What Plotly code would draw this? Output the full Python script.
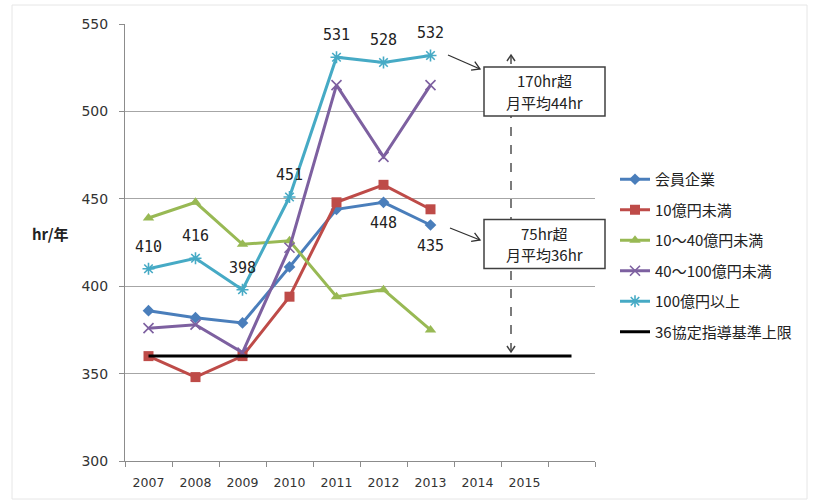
import math
import plotly.graph_objects as go

# Working-hour averages by company size (hours per year)
years = ["2007", "2008", "2009", "2010", "2011", "2012", "2013"]
all_years = ["2007", "2008", "2009", "2010", "2011", "2012", "2013", "2014", "2015", "2016"]
year_labels = ["2007", "2008", "2009", "2010", "2011", "2012", "2013", "2014", "2015", ""]

member = [386, 382, 379, 411, 444, 448, 435]
under_10 = [360, 348, 360, 394, 448, 458, 444]
from_10_to_40 = [439, 448, 424, 426, 394, 398, 375]
from_40_to_100 = [376, 378, 362, 422, 515, 474, 515]
over_100 = [410, 416, 398, 451, 531, 528, 532]
limit_36 = [360] * len(all_years)

names = ["会員企業", "10億円未満", "10～40億円未満", "40～100億円未満", "100億円以上", "36協定指導基準上限"]
colors = ["#4A7EBB", "#BE4B48", "#98B954", "#7D60A0", "#46AAC5", "#000000"]

note_lines = [("170hr超", "月平均44hr"), ("75hr超", "月平均36hr")]

FONT = "Noto Sans CJK JP"
NUM_FONT = "DejaVu Sans"
LABEL_FONT = "DejaVu Sans Mono"

# plot-area geometry in pixels (used for decoration placement)
L, T, W, H = 125, 24, 470, 437


def px(x):
    return (x - L) / W


def py(y):
    return (T + H - y) / H


fig = go.Figure()

series = [member, under_10, from_10_to_40, from_40_to_100, over_100]
markers = [
    dict(symbol="diamond", size=9),
    dict(symbol="square", size=10),
    dict(symbol="triangle-up", size=10),
    dict(symbol="x-thin-open", size=10, line=dict(width=1.6)),
    dict(symbol="asterisk-open", size=10, line=dict(width=1.6)),
]
for name, vals, col, mk in zip(names, series, colors, markers):
    mk = dict(mk)
    mk["color"] = col
    if "line" in mk:
        mk["line"]["color"] = col
    fig.add_trace(go.Scatter(
        x=years, y=vals, name=name, mode="lines+markers",
        line=dict(color=col, width=3), marker=mk,
        legendgroup=name,
    ))

fig.add_trace(go.Scatter(
    x=all_years, y=limit_36, name=names[5], mode="lines",
    line=dict(color="#000000", width=3), legendgroup=names[5],
))

annotations = []
# value labels: 100億円以上 above every point (category index as x)
for i, v in enumerate(over_100):
    annotations.append(dict(x=i, y=v, xref="x", yref="y", text=str(v), showarrow=False, yshift=22,
                            font=dict(family=LABEL_FONT, size=15, color="#222")))
# value labels: 会員企業 below the last two points
n = len(member)
for i in range(n - 2, n):
    annotations.append(dict(x=i, y=member[i], xref="x", yref="y", text=str(member[i]), showarrow=False,
                            yshift=-21, font=dict(family=LABEL_FONT, size=15, color="#222")))

shapes = []

# dashed double-headed vertical arrow
xa = px(511)
shapes.append(dict(type="line", xref="paper", yref="paper", x0=xa, x1=xa, y0=py(352), y1=py(55),
                   line=dict(color="#505050", width=1.5, dash="dash")))
hw, hh = 4 / W, 6 / H
shapes.append(dict(type="path", xref="paper", yref="paper",
                   path=f"M{xa - hw},{py(55) - hh} L{xa},{py(55)} L{xa + hw},{py(55) - hh}",
                   line=dict(color="#404040", width=1.5)))
shapes.append(dict(type="path", xref="paper", yref="paper",
                   path=f"M{xa - hw},{py(352) + hh} L{xa},{py(352)} L{xa + hw},{py(352) + hh}",
                   line=dict(color="#404040", width=1.5)))

# boxed notes: white framed box with two text lines
for cy, (l1, l2) in zip([91.5, 244], note_lines):
    shapes.append(dict(type="rect", xref="paper", yref="paper",
                       x0=px(484), x1=px(605), y0=py(cy + 24.5), y1=py(cy - 24.5),
                       fillcolor="white", line=dict(color="#404040", width=1.5)))
    for dy, txt in [(-11, l1), (11, l2)]:
        annotations.append(dict(
            xref="paper", yref="paper", x=px(544.5), y=py(cy + dy), xanchor="center", yanchor="middle",
            text=txt, showarrow=False, font=dict(family=FONT, size=15, color="#222"),
        ))

# diagonal pointer arrows with open heads
for (x0, y0, x1, y1) in [(448, 55, 480, 69), (450, 228, 480, 240)]:
    shapes.append(dict(type="line", xref="paper", yref="paper", x0=px(x0), y0=py(y0), x1=px(x1), y1=py(y1),
                       line=dict(color="#303030", width=1.3)))
    ang = math.atan2(y1 - y0, x1 - x0)
    pts = []
    for da in (2.6, -2.6):
        a = ang + da
        pts.append((x1 + 9 * math.cos(a), y1 + 9 * math.sin(a)))
    shapes.append(dict(type="path", xref="paper", yref="paper",
                       path=f"M{px(pts[0][0])},{py(pts[0][1])} L{px(x1)},{py(y1)} L{px(pts[1][0])},{py(pts[1][1])}",
                       line=dict(color="#303030", width=1.3)))

# y axis title
annotations.append(dict(xref="paper", yref="paper", x=px(50), y=py(233), xanchor="center", yanchor="middle",
                        text="<b>hr/年</b>", showarrow=False,
                        font=dict(family=FONT, size=15, color="#222")))

# faint outer frame
shapes.append(dict(type="rect", xref="paper", yref="paper", x0=px(12), x1=px(807), y0=py(499), y1=py(5),
                   line=dict(color="#e6e6e6", width=1), layer="below"))

fig.update_layout(
    width=816, height=502,
    margin=dict(l=L, r=816 - L - W, t=T, b=502 - T - H),
    paper_bgcolor="white", plot_bgcolor="white",
    font=dict(family=FONT, size=12, color="#333"),
    showlegend=True,
    legend=dict(x=px(615), y=py(163), xanchor="left", yanchor="top",
                font=dict(family=FONT, size=15, color="#222"),
                tracegroupgap=8, itemwidth=30, bgcolor="rgba(0,0,0,0)"),
    annotations=annotations,
    shapes=shapes,
)

fig.update_xaxes(
    type="category", categoryorder="array", categoryarray=all_years,
    tickvals=all_years, ticktext=year_labels, tickson="boundaries",
    range=[-0.5, len(all_years) - 0.5],
    showline=True, linecolor="#8c8c8c", linewidth=1,
    ticks="outside", ticklen=5, tickcolor="#8c8c8c", ticklabelstandoff=10,
    showgrid=False, tickfont=dict(family=NUM_FONT, size=12.5, color="#333"),
)
fig.update_yaxes(
    range=[300, 550], dtick=50, tick0=300,
    showline=True, linecolor="#8c8c8c", linewidth=1,
    ticks="outside", ticklen=5, tickcolor="#8c8c8c", ticklabelstandoff=8,
    showgrid=True, gridcolor="#a6a6a6", gridwidth=1, zeroline=False,
    tickfont=dict(family=NUM_FONT, size=14, color="#333"),
)

fig.write_html("out.html")
